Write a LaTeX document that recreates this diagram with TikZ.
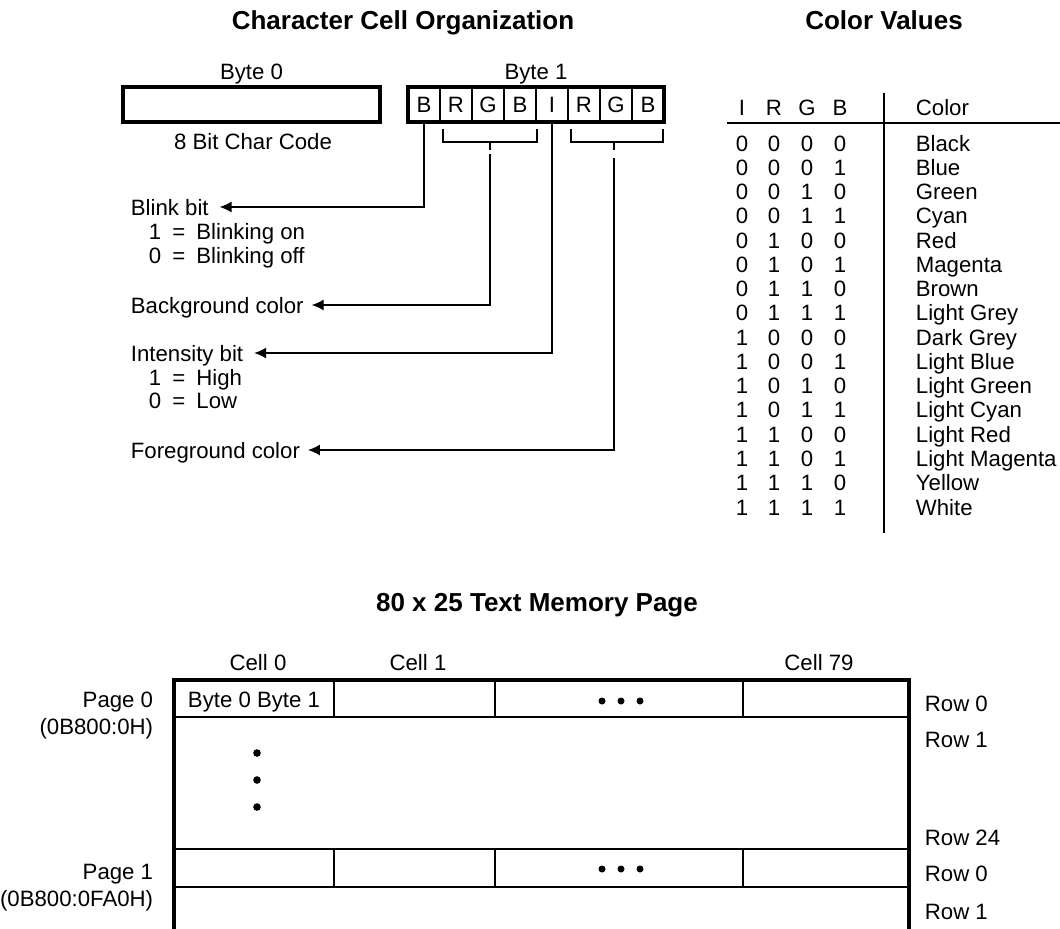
\documentclass[tikz,border=0pt]{standalone}
\usepackage{fontspec}
\setmainfont{Liberation Sans}
\usetikzlibrary{arrows.meta, positioning}

\tikzset{
  txt/.style={inner sep=0pt, text height=8pt, text depth=0pt, font=\fontsize{11.1}{12}\selectfont},
  ttl/.style={inner sep=0pt, text height=9.3pt, text depth=0pt, font=\bfseries\fontsize{13}{15}\selectfont},
  bitcell/.style={txt, draw, line width=0.8pt, outer sep=0pt, minimum width=16pt, minimum height=17.5pt},
  bytebox/.style={draw, line width=1.6pt, inner sep=0pt, minimum width=128.5pt, minimum height=17.5pt},
  thin/.style={line width=0.9pt},
  frame/.style={line width=1.7pt},
}

\begin{document}
\begin{tikzpicture}[x=0.5pt, y=-0.5pt, >={Latex[length=6pt,width=5.5pt]}, thin]
\useasboundingbox (0,0) rectangle (1060,928);

% titles
\node[ttl] (t1) at (403,20) {Character Cell Organization};
\node[ttl] (t2) at (884,20) {Color Values};
\node[ttl] (t3) at (537,602) {80 x 25 Text Memory Page};

% byte 0
\node[txt] (b0lbl) at (251.5,71) {Byte 0};
\node[bytebox] (byte0) at (251.5,104.5) {};
\node[txt] (code) at (253,141) {8 Bit Char Code};

% byte 1
\node[txt] (b1lbl) at (536,71) {Byte 1};
\foreach \l [count=\i] in {B,R,G,B,I,R,G,B}
  \node[bitcell] (c\i) at ({392+32*\i},104.5) {\l};
\draw[frame] (c1.north west) rectangle (c8.south east);

% brackets
\draw ([shift={(1.5pt,-3.5pt)}]c2.south west) -- ++(0,13) -- ([shift={(0.5pt,-10pt)}]c4.south east) -- ++(0,-13);
\draw ([shift={(1.5pt,-3.5pt)}]c6.south west) -- ++(0,13) -- ([shift={(-0.5pt,-10pt)}]c8.south east) -- ++(0,-13);
\draw (490,142) -- (490,150);
\draw (614,142) -- (614,150);
\coordinate (bgtop) at (490,154);
\coordinate (fgtop) at (614,158);

% field labels
\node[txt, anchor=west] (blink) at (130,207) {Blink bit};
\node[txt, anchor=west] (blink1) at (148,231) {1\enspace=\enspace Blinking on};
\node[txt, anchor=west] (blink0) at (148,255) {0\enspace=\enspace Blinking off};
\node[txt, anchor=west] (bg) at (130,305) {Background color};
\node[txt, anchor=west] (inten) at (130,353) {Intensity bit};
\node[txt, anchor=west] (inten1) at (148,377) {1\enspace=\enspace High};
\node[txt, anchor=west] (inten0) at (148,400) {0\enspace=\enspace Low};
\node[txt, anchor=west] (fg) at (130,450) {Foreground color};

\draw[->] (c1.south) |- ([xshift=5pt]blink.east);
\draw[->] (bgtop) |- ([xshift=3.5pt]bg.east);
\draw[->] (c5.south) |- ([xshift=5pt]inten.east);
\draw[->] (fgtop) |- ([xshift=3.5pt]fg.east);

% color table
\node[txt] (hI) at (742,107) {I};
\node[txt] (hR) at (774,107) {R};
\node[txt] (hG) at (807,107) {G};
\node[txt] (hB) at (840,107) {B};
\node[txt, anchor=west] (hC) at (915,107) {Color};
\draw[line width=0.7pt] (727,123) -- (1060,123);
\draw[line width=0.7pt] (884,93) -- (884,533);
\foreach \vi/\vr/\vg/\vb/\cname [count=\k from 0] in {
    0/0/0/0/Black, 0/0/0/1/Blue, 0/0/1/0/Green, 0/0/1/1/Cyan,
    0/1/0/0/Red, 0/1/0/1/Magenta, 0/1/1/0/Brown, 0/1/1/1/Light Grey,
    1/0/0/0/Dark Grey, 1/0/0/1/Light Blue, 1/0/1/0/Light Green, 1/0/1/1/Light Cyan,
    1/1/0/0/Light Red, 1/1/0/1/Light Magenta, 1/1/1/0/Yellow, 1/1/1/1/White} {
  \node[txt] (i\k) at (742,{143+24.27*\k}) {\vi};
  \node[txt] (r\k) at (774,{143+24.27*\k}) {\vr};
  \node[txt] (g\k) at (807,{143+24.27*\k}) {\vg};
  \node[txt] (b\k) at (840,{143+24.27*\k}) {\vb};
  \node[txt, anchor=west] (n\k) at (915,{143+24.27*\k}) {\cname};
}

% memory page grid
\draw[frame] (174,935) -- (174,680) -- (909,680) -- (909,935);
\draw (174,717) -- (909,717);
\draw (174,849) -- (909,849);
\draw (174,887) -- (909,887);
\foreach \x in {334,495,743} {
  \draw (\x,680) -- (\x,717);
  \draw (\x,849) -- (\x,887);
}
\foreach \x in {602,621,640} {
  \fill (\x,701) circle (1.75pt);
  \fill (\x,869) circle (1.75pt);
}
\foreach \y in {753,780,807}
  \fill (257,\y) circle (1.9pt);

\node[txt] (cell0) at (258,662) {Cell 0};
\node[txt] (cell1) at (418,662) {Cell 1};
\node[txt] (cell79) at (819,662) {Cell 79};
\node[txt] (bytes) at (254,699) {Byte 0 Byte 1};

\node[txt, anchor=east] (pg0) at (154,699) {Page 0};
\node[txt, anchor=east] (pg0a) at (154,726) {(0B800:0H)};
\node[txt, anchor=east] (pg1) at (154,871) {Page 1};
\node[txt, anchor=east] (pg1a) at (154,898) {(0B800:0FA0H)};

\node[txt, anchor=west] (row0) at (924,703) {Row 0};
\node[txt, anchor=west] (row1) at (924,739) {Row 1};
\node[txt, anchor=west] (row24) at (924,837) {Row 24};
\node[txt, anchor=west] (rowb0) at (924,873) {Row 0};
\node[txt, anchor=west] (rowb1) at (924,911) {Row 1};
\end{tikzpicture}
\end{document}
